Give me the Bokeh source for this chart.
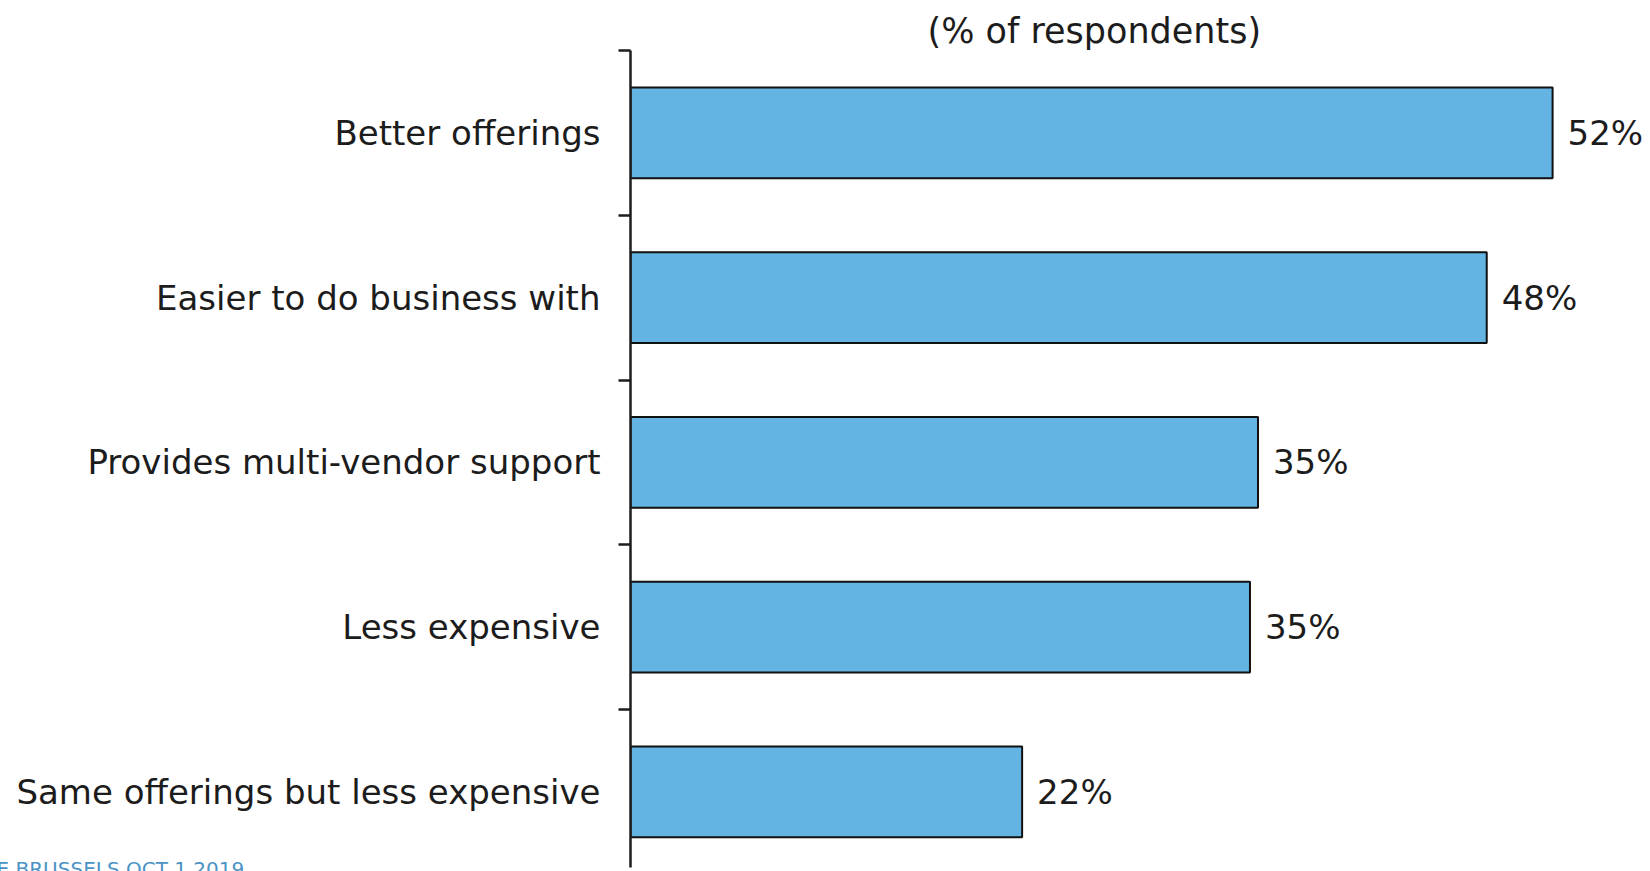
from bokeh.plotting import figure
from bokeh.models import Range1d, FixedTicker, Title
from bokeh.core.properties import value
from bokeh.embed import file_html
from bokeh.resources import INLINE

categories = ["Better offerings", "Easier to do business with", "Provides multi-vendor support",
              "Less expensive", "Same offerings but less expensive"]
values = [51.8, 48.1, 35.25, 34.8, 22.0]
value_labels = ["52%", "48%", "35%", "35%", "22%"]
title_text = "(% of respondents)"
footer_text = "E BRUSSELS OCT 1 2019"

FONT = "DejaVu Sans"
TXT = "#1c1c1c"
centers = [i + 1 for i in range(len(categories))]
boundaries = [i + 0.5 for i in range(len(categories) + 1)]

p = figure(width=1650, height=871, output_backend="svg", toolbar_location=None,
           x_range=Range1d(0, 57.3), y_range=Range1d(5.459, 0.5),
           x_axis_location=None, y_axis_location="left",
           min_border_left=630, min_border_right=0, min_border_top=50, min_border_bottom=0,
           title=title_text)
p.outline_line_color = None
p.xgrid.visible = False
p.ygrid.visible = False

p.title.align = "left"
p.title.offset = 297
p.title.standoff = 0
p.title.text_font = FONT
p.title.text_font_size = "35px"
p.title.text_font_style = "normal"
p.title.text_color = TXT

ax = p.yaxis[0]
ax.ticker = FixedTicker(ticks=centers, minor_ticks=boundaries)
ax.major_label_overrides = {c: t for c, t in zip(centers, categories)}
ax.major_tick_out = 0
ax.major_tick_in = 0
ax.minor_tick_out = 12
ax.minor_tick_in = 0
ax.minor_tick_line_width = 2.5
ax.minor_tick_line_color = "#1c1c1c"
ax.axis_line_width = 2.5
ax.axis_line_color = "#1c1c1c"
ax.major_label_standoff = 18
ax.major_label_text_font = FONT
ax.major_label_text_font_size = "34px"
ax.major_label_text_color = TXT

p.hbar(y=centers, right=values, left=0, height=0.55,
       fill_color="#63B3E3", line_color="#111111", line_width=2)

p.text(x=values, y=centers, text=value_labels, x_offset=15,
       text_baseline="middle", text_align="left",
       text_font=value(FONT), text_font_size="34px", text_color=TXT)

p.add_layout(Title(text=footer_text, align="left", offset=-634, vertical_align="top", standoff=-22,
                   text_font=FONT, text_font_size="20px", text_font_style="normal",
                   text_color="#4B93C5"), "below")

open("out.html", "w").write(file_html(p, INLINE))
